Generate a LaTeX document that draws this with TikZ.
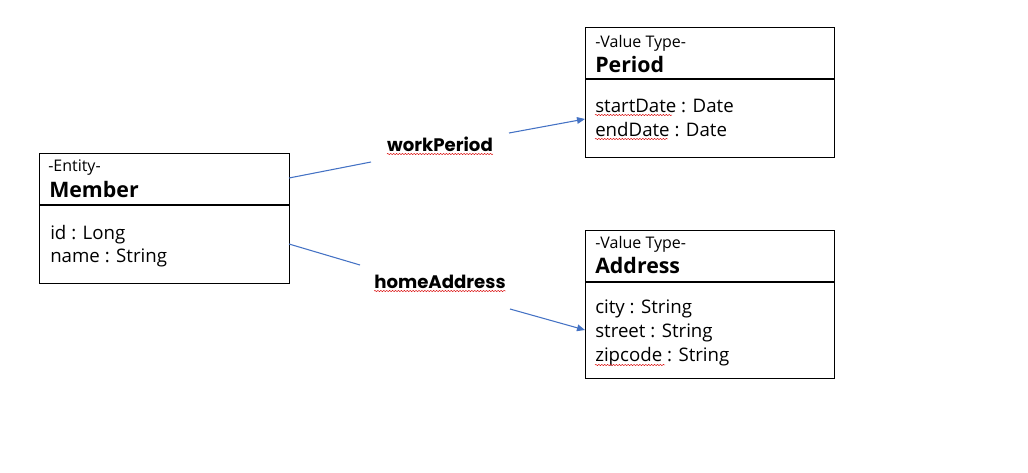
\documentclass[tikz,border=0pt]{standalone}
\usepackage{fontspec}
\setmainfont{Open Sans}
\newfontfamily\lblfont{Poppins}
\usetikzlibrary{arrows.meta,decorations.pathmorphing}
\definecolor{conn}{HTML}{4472C4}
\tikzset{
  box/.style={draw=black, line width=0.8pt, inner sep=0pt, anchor=north west},
  stereo/.style={anchor=base west, inner sep=0pt, font=\fontsize{12}{14}\selectfont},
  cname/.style={anchor=base west, inner sep=0pt, font=\fontsize{16}{19}\selectfont\bfseries},
  attr/.style={anchor=base west, inner sep=0pt, font=\fontsize{14}{17}\selectfont},
  lbl/.style={anchor=base, inner sep=0pt, font=\fontsize{13.6}{16}\selectfont\lblfont\bfseries},
  connline/.style={draw=conn, line width=0.8pt},
  arr/.style={connline, -{Triangle[length=6pt,width=5pt]}},
  squig/.style={draw=red!85!black, line width=0.35pt, decorate, decoration={snake, amplitude=0.45pt, segment length=2.2pt}}
}
\begin{document}
\begin{tikzpicture}[x=0.75pt, y=-0.75pt]
\useasboundingbox (0,0) rectangle (1028,472);
% Member
\node[box, minimum width=250*0.75pt, minimum height=130*0.75pt] (member) at (39,153) {};
\draw[line width=0.8pt] (39,205) -- (289,205);
\node[stereo] (ment) at (48,171) {-Entity-};
\node[cname] (mname) at (49,197) {Member};
\node[attr] (mid) at (50,239) {id : Long};
\node[attr] (mnm) at (50,262) {name : String};
% Period
\node[box, minimum width=249*0.75pt, minimum height=130*0.75pt] (period) at (585,27) {};
\draw[line width=0.8pt] (585,79) -- (834,79);
\node[stereo] (pst) at (595,47) {-Value Type-};
\node[cname] (pname) at (595,72) {Period};
\node[attr] (psd) at (595,112) {startDate : Date};
\node[attr] (ped) at (595,136) {endDate : Date};
% Address
\node[box, minimum width=249*0.75pt, minimum height=148*0.75pt] (address) at (585,230) {};
\draw[line width=0.8pt] (585,282) -- (834,282);
\node[stereo] (ast) at (595,248) {-Value Type-};
\node[cname] (aname) at (595,273) {Address};
\node[attr] (acity) at (595,313) {city : String};
\node[attr] (astreet) at (595,337) {street : String};
\node[attr] (azip) at (595,361) {zipcode : String};
% labels
\node[lbl] (wp) at (440,151) {workPeriod};
\node[lbl] (ha) at (440,288) {homeAddress};
% connector points
\coordinate (w1) at (289,178);
\coordinate (w2) at (371,162);
\coordinate (w3) at (509,133);
\coordinate (w4) at (585,119);
\coordinate (h1) at (289,244);
\coordinate (h2) at (360,265);
\coordinate (h3) at (510,309);
\coordinate (h4) at (585,330);
\draw[connline] (w1) -- (w2);
\draw[arr] (w3) -- (w4);
\draw[connline] (h1) -- (h2);
\draw[arr] (h3) -- (h4);
% spell-check squiggles
\draw[squig] (wp.base west) ++(0,3) -- (wp.base east |- 0,154);
\draw[squig] (ha.base west) ++(0,3) -- (ha.base east |- 0,291);
\draw[squig] (psd.base west) ++(0,3) -- (672,115);
\draw[squig] (ped.base west) ++(0,3) -- (668,139);
\draw[squig] (azip.base west) ++(0,4) -- (665,365);
\end{tikzpicture}
\end{document}
